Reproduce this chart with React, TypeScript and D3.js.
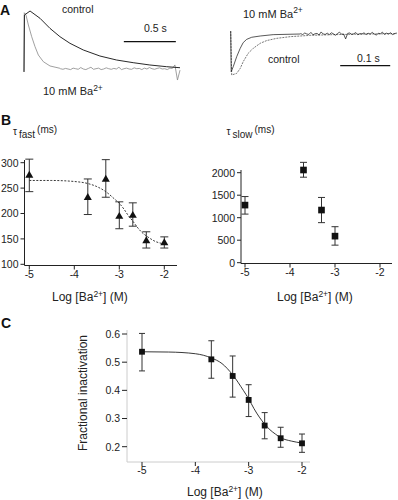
import React from 'react'
import * as d3 from 'd3'

const FONT = '"Liberation Sans", Arial, Helvetica, sans-serif'

// ---- panel A, left: whole-cell currents (time in s, normalised current)
const ctrlLeftT = [0, 0.004, 0.058, 0.154, 0.25, 0.346, 0.442, 0.57, 0.73, 0.89, 1.05, 1.21, 1.37, 1.5]
const ctrlLeftV = [-0.05, 0.93, 1.0, 0.874, 0.7, 0.557, 0.443, 0.328, 0.224, 0.155, 0.109, 0.069, 0.04, 0.022]
const baLeftT = [0, 0.003, 0.019, 0.042, 0.074, 0.106, 0.138, 0.186, 0.25, 0.346]
const baLeftV = [-0.05, 0.97, 0.931, 0.759, 0.557, 0.385, 0.241, 0.126, 0.052, 0.012]
const baLeftNoise = [
  0.005, -0.005, 0.01, 0.0, -0.01, 0.015, 0.005, -0.005, 0.025, 0.0, -0.01, 0.01, 0.03, -0.005, 0.005, 0.015,
  -0.01, 0.0, 0.02, 0.005, -0.005, 0.01, 0.0, 0.03, -0.01, 0.005, 0.015, 0.0, -0.005, 0.02, 0.005, 0.01,
  -0.01, 0.015, 0.0, 0.025, 0.005, -0.005, 0.01, 0.02, 0.0, 0.005, -0.01, 0.015, 0.01, 0.07, -0.19, -0.02,
]

// ---- panel A, right: single-channel ensemble (time in s, normalised current)
const ctrlRightT = [0, 0.002, 0.012, 0.019, 0.025, 0.035, 0.045, 0.059, 0.072, 0.092, 0.119, 0.159, 0.205, 0.272, 0.332]
const ctrlRightV = [0.07, -1.0, -0.96, -0.84, -0.675, -0.47, -0.35, -0.227, -0.16, -0.106, -0.065, -0.033, -0.016, 0, 0.008]
const baRightT = [0, 0.001, 0.005, 0.012, 0.019, 0.025, 0.032, 0.042, 0.059, 0.085, 0.139]
const baRightV = [0.07, -0.92, -0.8, -0.553, -0.35, -0.21, -0.13, -0.08, -0.049, -0.016, 0]
const baRightNoise = [
  0.01, -0.015, 0.025, 0.0, -0.01, 0.04, -0.02, 0.005, 0.015, -0.025, 0.05, 0.0, -0.01, 0.02, -0.015, 0.03,
  0.005, -0.03, 0.01, 0.045, -0.005, 0.0, -0.12, 0.015, 0.025, -0.01, 0.005, 0.035, -0.02, 0.01, 0.0, 0.03,
  -0.015, 0.02, -0.005, 0.04, 0.0, -0.025, 0.015, 0.005, 0.045, -0.01, 0.02, 0.0, 0.03, -0.015, 0.01, 0.025,
]

// ---- panel B, tau fast
const fastConc = [-5, -3.7, -3.3, -3, -2.7, -2.4, -2]
const fastMean = [275, 231, 267, 194, 196, 146, 142]
const fastHi = [307, 268, 306, 223, 221, 164, 154]
const fastLo = [243, 198, 232, 170, 175, 132, 132]
const fastFitX = [-5, -4.5, -4, -3.7, -3.5, -3.3, -3.1, -3, -2.9, -2.8, -2.7, -2.6, -2.5, -2.4, -2.3, -2.2, -2.1, -2]
const fastFitY = [265, 265, 263, 259, 253, 243, 228, 220, 209, 196, 185, 173, 163, 156, 150, 145, 142, 140]
const fastTicks = [100, 150, 200, 250, 300]

// ---- panel B, tau slow
const slowConc = [-5, -3.7, -3.3, -3]
const slowMean = [1280, 2060, 1170, 590]
const slowHi = [1470, 2230, 1450, 800]
const slowLo = [1080, 1900, 890, 390]
const slowTicks = [0, 500, 1000, 1500, 2000]

// ---- panel C, fractional inactivation
const fracConc = [-5, -3.7, -3.3, -3, -2.7, -2.4, -2]
const fracMean = [0.537, 0.51, 0.451, 0.366, 0.275, 0.23, 0.212]
const fracHi = [0.602, 0.576, 0.522, 0.42, 0.321, 0.269, 0.245]
const fracLo = [0.469, 0.443, 0.376, 0.307, 0.228, 0.198, 0.18]
const fracFitX = [-5, -4.5, -4, -3.7, -3.5, -3.3, -3.1, -3, -2.9, -2.8, -2.7, -2.6, -2.5, -2.4, -2.2, -2]
const fracFitY = [0.537, 0.536, 0.53, 0.515, 0.495, 0.455, 0.4, 0.37, 0.335, 0.305, 0.28, 0.26, 0.245, 0.232, 0.22, 0.213]
const fracTicks = [0.2, 0.3, 0.4, 0.5, 0.6]

const concTicks = [-5, -4, -3, -2]

type Scale = d3.ScaleLinear<number, number>

const zip = (xs: number[], ys: number[]) => xs.map((x, i) => [x, ys[i]] as [number, number])

const YAxis = ({ scale, ticks, x, y0, y1, fmt, lineColor = '#222', tickX0 }: {
  scale: Scale; ticks: number[]; x: number; y0: number; y1: number; fmt: (v: number) => string; lineColor?: string; tickX0?: number
}) => (
  <g>
    <line x1={x} x2={x} y1={y0} y2={y1} stroke={lineColor} strokeWidth={1} />
    {ticks.map((t) => (
      <g key={t}>
        <line x1={tickX0 ?? x - 4} x2={x} y1={scale(t)} y2={scale(t)} stroke="#222" strokeWidth={1} />
        <text x={(tickX0 ?? x - 4) - 2} y={scale(t) + 3.8} textAnchor="end" fontSize={10.5} fill="#222">
          {fmt(t)}
        </text>
      </g>
    ))}
  </g>
)

const XAxis = ({ scale, ticks, y, x0, x1, lineColor = '#222' }: {
  scale: Scale; ticks: number[]; y: number; x0: number; x1: number; lineColor?: string
}) => (
  <g>
    <line x1={x0} x2={x1} y1={y} y2={y} stroke={lineColor} strokeWidth={1} />
    {ticks.map((t) => (
      <g key={t}>
        <line x1={scale(t)} x2={scale(t)} y1={y} y2={y + 4} stroke="#222" strokeWidth={1} />
        <text x={scale(t)} y={y + 12} textAnchor="middle" fontSize={10.5} fill="#222">
          {String(t)}
        </text>
      </g>
    ))}
  </g>
)

const ErrorBars = ({ xs, hi, lo, sx, sy, cap }: { xs: number[]; hi: number[]; lo: number[]; sx: Scale; sy: Scale; cap: number }) => (
  <g stroke="#333" strokeWidth={1}>
    {xs.map((c, i) => (
      <g key={i}>
        <line x1={sx(c)} x2={sx(c)} y1={sy(hi[i])} y2={sy(lo[i])} />
        <line x1={sx(c) - cap / 2} x2={sx(c) + cap / 2} y1={sy(hi[i])} y2={sy(hi[i])} />
        <line x1={sx(c) - cap / 2} x2={sx(c) + cap / 2} y1={sy(lo[i])} y2={sy(lo[i])} />
      </g>
    ))}
  </g>
)

const LogBaTitle = ({ x, y }: { x: number; y: number }) => (
  <text x={x} y={y} fontSize={12} fill="#222">
    Log [Ba<tspan dy={-4.5} fontSize={8.5}>2+</tspan>
    <tspan dy={4.5}>] (M)</tspan>
  </text>
)

const App: React.FC = () => {
  // panel A scales
  const axL = d3.scaleLinear().domain([0, 1.5]).range([24, 180])
  const ayL = d3.scaleLinear().domain([0, 1]).range([69, 11])
  const axR = d3.scaleLinear().domain([0, 0.332]).range([230.7, 396.7])
  const ayR = d3.scaleLinear().domain([-1, 0]).range([75, 34])

  const lineL = d3.line<[number, number]>().x((d) => axL(d[0])).y((d) => ayL(d[1]))
  const lineR = d3.line<[number, number]>().x((d) => axR(d[0])).y((d) => ayR(d[1]))

  const baLeftPts = zip(baLeftT, baLeftV).concat(
    baLeftNoise.map((v, i) => [0.35 + i * (1.15 / (baLeftNoise.length - 1)), v] as [number, number])
  )
  const baRightPts = zip(baRightT, baRightV).concat(
    baRightNoise.map((v, i) => [0.14 + i * (0.192 / (baRightNoise.length - 1)), v] as [number, number])
  )

  // panel B scales
  const bxF = d3.scaleLinear().domain([-5, -2]).range([29.3, 164.3])
  const byF = d3.scaleLinear().domain([100, 300]).range([264.3, 162.7])
  const bxS = d3.scaleLinear().domain([-5, -2]).range([245, 380])
  const byS = d3.scaleLinear().domain([0, 2000]).range([262.7, 172.7])

  // panel C scales
  const cx = d3.scaleLinear().domain([-5, -2]).range([142, 302])
  const cy = d3.scaleLinear().domain([0.2, 0.6]).range([446.7, 334])

  const fitF = d3.line<[number, number]>().x((d) => bxF(d[0])).y((d) => byF(d[1])).curve(d3.curveMonotoneX)
  const fitC = d3.line<[number, number]>().x((d) => cx(d[0])).y((d) => cy(d[1])).curve(d3.curveMonotoneX)

  const tri = d3.symbol(d3.symbolTriangle, 28)()
  const sqB = d3.symbol(d3.symbolSquare, 44)()
  const sqC = d3.symbol(d3.symbolSquare, 34)()

  return (
    <svg width={398} height={500} style={{ position: 'absolute', left: 0, top: 0, background: '#fff' }} fontFamily={FONT}>
      <rect width={398} height={500} fill="#fff" />

      {/* ---------- A ---------- */}
      <text x={0} y={15} fontSize={14} fontWeight="bold" fill="#111">A</text>
      <path d={lineL(baLeftPts) ?? ''} fill="none" stroke="#888" strokeWidth={0.8} />
      <path d={lineL(zip(ctrlLeftT, ctrlLeftV)) ?? ''} fill="none" stroke="#111" strokeWidth={0.9} />
      <text x={62} y={13} fontSize={10.5} fill="#222">control</text>
      <text x={144} y={32} fontSize={10.5} fill="#222">0.5 s</text>
      <line x1={axL(0.96)} x2={axL(1.46)} y1={41.7} y2={41.7} stroke="#111" strokeWidth={1.2} />
      <text x={43} y={95} fontSize={11} fill="#222">
        10 mM Ba<tspan dy={-4.5} fontSize={8.5}>2+</tspan>
      </text>

      <path d={lineR(zip(ctrlRightT, ctrlRightV)) ?? ''} fill="none" stroke="#555" strokeWidth={0.8} strokeDasharray="2,1" />
      <path d={lineR(baRightPts) ?? ''} fill="none" stroke="#111" strokeWidth={0.7} />
      <text x={243} y={17.5} fontSize={11} fill="#222">
        10 mM Ba<tspan dy={-4.5} fontSize={8.5}>2+</tspan>
      </text>
      <text x={268} y={63.3} fontSize={10.5} fill="#222">control</text>
      <text x={357} y={62} fontSize={10.5} fill="#222">0.1 s</text>
      <line x1={axR(0.219)} x2={axR(0.319)} y1={65.7} y2={65.7} stroke="#111" strokeWidth={1.2} />

      {/* ---------- B ---------- */}
      <text x={1} y={125} fontSize={14} fontWeight="bold" fill="#111">B</text>
      <text x={13} y={135} fontSize={10} fill="#222">
        τ<tspan dx={2} dy={2.5}>fast</tspan>
        <tspan dx={2} dy={-4.5}>(ms)</tspan>
      </text>
      <YAxis scale={byF} ticks={fastTicks} x={24.5} y0={160} y1={265.5} fmt={(v) => String(v)} />
      <XAxis scale={bxF} ticks={concTicks} y={265.5} x0={24.5} x1={177} />
      <path d={fitF(zip(fastFitX, fastFitY)) ?? ''} fill="none" stroke="#222" strokeWidth={0.9} strokeDasharray="2,1.5" />
      <ErrorBars xs={fastConc} hi={fastHi} lo={fastLo} sx={bxF} sy={byF} cap={8} />
      {fastConc.map((c, i) => (
        <path key={i} d={tri ?? ''} transform={`translate(${bxF(c)},${byF(fastMean[i])})`} fill="#111" />
      ))}
      <LogBaTitle x={52} y={301} />

      <text x={226.5} y={135} fontSize={10} fill="#222">
        τ<tspan dx={2} dy={2.5}>slow</tspan>
        <tspan dx={2} dy={-4.5}>(ms)</tspan>
      </text>
      <YAxis scale={byS} ticks={slowTicks} x={241} y0={170} y1={263.5} fmt={(v) => String(v)} />
      <XAxis scale={bxS} ticks={concTicks} y={263.5} x0={241} x1={392} />
      <ErrorBars xs={slowConc} hi={slowHi} lo={slowLo} sx={bxS} sy={byS} cap={7} />
      {slowConc.map((c, i) => (
        <path key={i} d={sqB ?? ''} transform={`translate(${bxS(c)},${byS(slowMean[i])})`} fill="#111" />
      ))}
      <LogBaTitle x={277} y={301} />

      {/* ---------- C ---------- */}
      <text x={1} y={328} fontSize={14} fontWeight="bold" fill="#111">C</text>
      <YAxis scale={cy} ticks={fracTicks} x={127} y0={330} y1={462} tickX0={122} lineColor="#ccc" fmt={(v) => v.toFixed(1)} />
      <XAxis scale={cx} ticks={concTicks} y={462} x0={127} x1={310} lineColor="#ccc" />
      <text transform="translate(87,393) rotate(-90)" textAnchor="middle" fontSize={12} fill="#222">
        Fractional inactivation
      </text>
      <path d={fitC(zip(fracFitX, fracFitY)) ?? ''} fill="none" stroke="#222" strokeWidth={0.9} />
      <ErrorBars xs={fracConc} hi={fracHi} lo={fracLo} sx={cx} sy={cy} cap={6} />
      {fracConc.map((c, i) => (
        <path key={i} d={sqC ?? ''} transform={`translate(${cx(c)},${cy(fracMean[i])})`} fill="#111" />
      ))}
      <LogBaTitle x={187} y={496} />
    </svg>
  )
}

export default App
